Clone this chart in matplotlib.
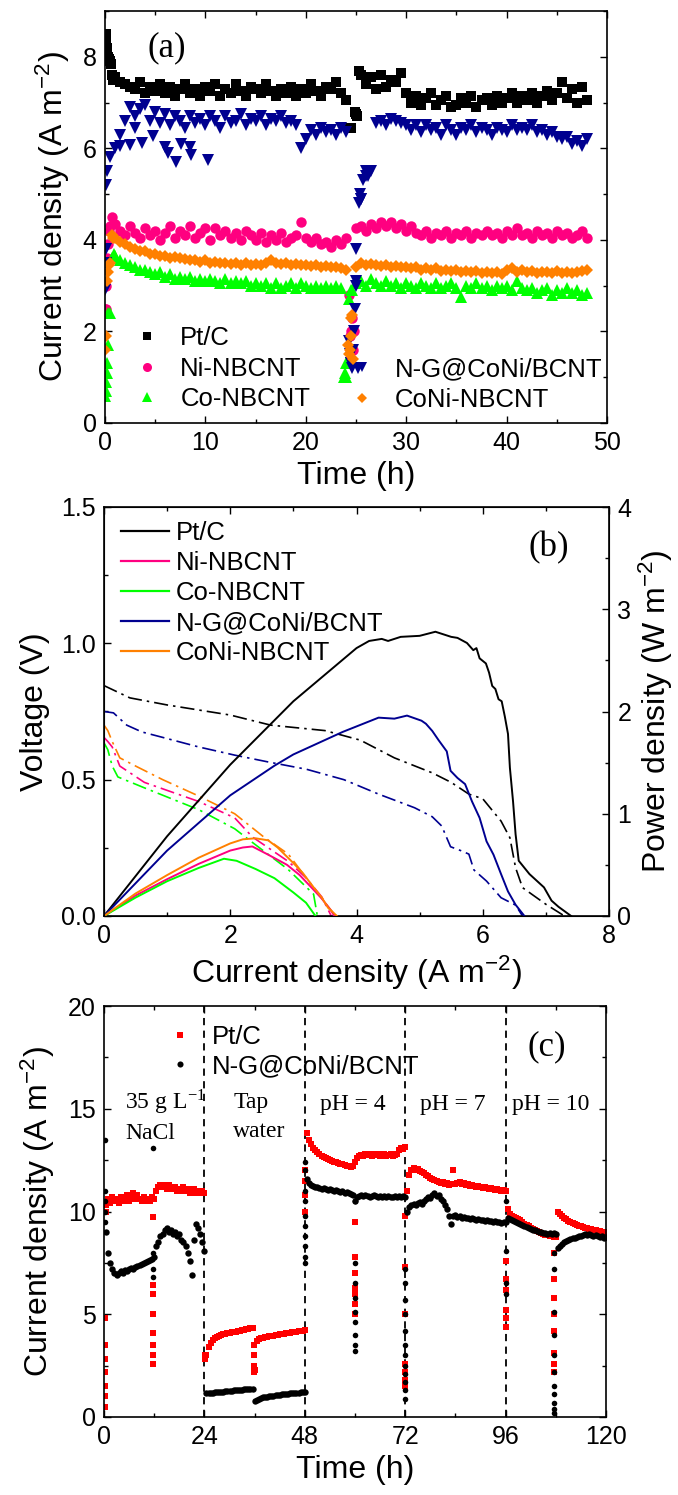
import numpy as np
import matplotlib
matplotlib.use('Agg')
import matplotlib.pyplot as plt
from matplotlib.ticker import MultipleLocator
from matplotlib.lines import Line2D

plt.rcParams['font.family'] = ['Liberation Sans', 'DejaVu Sans']
plt.rcParams['mathtext.fontset'] = 'custom'
plt.rcParams['mathtext.rm'] = 'Liberation Sans'
plt.rcParams['mathtext.it'] = 'Liberation Sans:italic'
plt.rcParams['mathtext.bf'] = 'Liberation Sans:bold'

# ---------------- Panel (a): stability over 48 h ----------------
TIME_A = np.arange(0, 48.01, 0.5)

PTC_A = [8.45, 7.9, 7.55, 7.45, 7.4, 7.35, 7.3, 7.45, 7.2, 7.35, 7.25, 7.4, 7.2, 7.35, 7.15, 7.3, 7.4, 7.2, 7.3, 7.15,
         7.35, 7.25, 7.4, 7.15, 7.3, 7.2, 7.4, 7.25, 7.15, 7.35, 7.3, 7.2, 7.4, 7.25, 7.15, 7.3, 7.2, 7.35, 7.15, 7.3,
         7.2, 7.4, 7.25, 7.15, 7.35, 7.3, 7.45, 7.2, 7.05, 6.45, 6.75, 7.6, 7.4, 7.55, 7.3, 7.6, 7.35, 7.5, 7.45, 7.65,
         7.2, 7.0, 7.15, 6.95, 7.1, 7.2, 6.95, 7.05, 7.15, 6.9, 6.95, 7.1, 7.0, 7.15, 6.9, 7.05, 7.1, 6.95, 7.15, 7.0,
         7.1, 7.2, 7.0, 7.15, 7.05, 7.2, 7.0, 7.15, 7.25, 7.05, 7.2, 7.45, 7.1, 7.3, 7.0, 7.35, 7.05]
NG_A = [5.2, 5.8, 6.0, 6.3, 6.6, 6.9, 6.7, 6.85, 6.95, 6.6, 6.8, 6.55, 6.75, 6.5, 6.7, 6.6, 6.45, 6.7, 6.55, 6.65,
        6.5, 6.7, 6.6, 6.45, 6.7, 6.55, 6.6, 6.75, 6.5, 6.65, 6.6, 6.7, 6.5, 6.65, 6.6, 6.7, 6.55, 6.6, 6.5, 6.0,
        6.2, 6.4, 6.3, 6.45, 6.35, 6.4, 6.3, 6.45, 6.35, 1.3, 3.0, 4.9, 5.4, 5.5, 6.55, 6.6, 6.5, 6.65, 6.6, 6.55,
        6.5, 6.4, 6.5, 6.35, 6.5, 6.4, 6.45, 6.3, 6.5, 6.4, 6.3, 6.45, 6.4, 6.5, 6.35, 6.45, 6.4, 6.3, 6.45, 6.4,
        6.35, 6.5, 6.4, 6.45, 6.4, 6.5, 6.35, 6.4, 6.3, 6.35, 6.25, 6.2, 6.25, 6.1, 6.15, 6.05, 6.2]
NI_A = [2.5, 4.3, 4.35, 4.2, 4.1, 4.3, 4.15, 4.05, 4.25, 4.1, 4.2, 4.0, 4.15, 4.3, 4.05, 4.2, 4.1, 4.3, 4.05, 4.15,
        4.25, 4.0, 4.25, 4.1, 4.2, 4.05, 4.15, 4.0, 4.2, 4.1, 4.0, 4.15, 3.95, 4.1, 4.0, 4.15, 3.95, 4.05, 4.1, 4.4,
        4.05, 3.95, 4.05, 3.9, 3.95, 3.85, 4.0, 3.9, 4.05, 2.0, 4.25, 4.3, 4.2, 4.35, 4.25, 4.4, 4.3, 4.4, 4.25, 4.35,
        4.2, 4.3, 4.15, 4.1, 4.2, 4.05, 4.15, 4.1, 4.2, 4.05, 4.15, 4.1, 4.2, 4.05, 4.15, 4.1, 4.2, 4.1, 4.15, 4.05,
        4.2, 4.1, 4.25, 4.1, 4.15, 4.05, 4.2, 4.1, 4.15, 4.05, 4.2, 4.1, 4.15, 4.05, 4.1, 4.2, 4.05]
CO_A = [0.6, 2.4, 3.65, 3.55, 3.5, 3.45, 3.4, 3.35, 3.35, 3.3, 3.25, 3.3, 3.2, 3.25, 3.15, 3.2, 3.15, 3.2, 3.1, 3.15,
        3.1, 3.15, 3.1, 3.05, 3.15, 3.05, 3.1, 3.05, 3.1, 3.0, 3.05, 3.0, 3.05, 2.95, 3.05, 2.95, 3.0, 3.05, 2.95, 3.05,
        3.0, 2.95, 3.0, 2.95, 3.0, 2.95, 3.0, 2.95, 1.0, 2.9, 3.05, 3.1, 3.0, 3.15, 3.05, 3.0, 3.1, 3.0, 3.05, 2.95,
        3.05, 3.0, 2.95, 3.05, 3.0, 2.95, 3.05, 2.95, 3.0, 3.05, 2.95, 2.75, 3.0, 2.95, 3.05, 2.95, 3.0, 2.9, 3.0, 2.95,
        3.0, 2.9, 3.1, 2.95, 2.9, 2.95, 2.85, 2.9, 2.95, 2.8, 2.9, 2.85, 2.95, 2.85, 2.9, 2.8, 2.85]
CONI_A = [1.6, 3.5, 4.05, 3.95, 3.9, 3.85, 3.8, 3.75, 3.75, 3.7, 3.7, 3.65, 3.65, 3.6, 3.62, 3.6, 3.58, 3.55, 3.55, 3.52,
          3.55, 3.5, 3.52, 3.5, 3.5, 3.48, 3.5, 3.45, 3.5, 3.45, 3.48, 3.45, 3.5, 3.55, 3.5, 3.48, 3.5, 3.45, 3.48, 3.45,
          3.45, 3.42, 3.45, 3.4, 3.42, 3.4, 3.4, 3.38, 3.35, 2.3, 3.4, 3.5, 3.45, 3.48, 3.45, 3.42, 3.45, 3.4, 3.42, 3.4,
          3.4, 3.38, 3.4, 3.35, 3.38, 3.35, 3.38, 3.32, 3.35, 3.32, 3.35, 3.3, 3.32, 3.3, 3.32, 3.28, 3.3, 3.28, 3.3, 3.25,
          3.35, 3.38, 3.3, 3.35, 3.3, 3.32, 3.28, 3.3, 3.3, 3.28, 3.32, 3.28, 3.3, 3.28, 3.3, 3.32, 3.35]

# extra points recorded at start-up and at the 24 h refresh
PTC_A_XT = [0.05, 0.1, 0.2, 0.3, 0.4, 0.6, 0.7, 0.8, 24.4, 24.9, 25.1, 25.3]
PTC_A_XV = [8.5, 8.35, 8.2, 8.0, 7.95, 7.85, 7.6, 7.5, 6.45, 6.8, 6.7, 7.7]
NG_A_XT = [0.0, 0.05, 0.1, 0.1, 0.2, 1.5, 2.5, 3.0, 3.65, 4.8, 5.97, 6.3, 7.1, 7.6, 8.5, 8.6, 10.3,
           24.3, 24.4, 24.5, 24.6, 24.7, 24.8, 24.9, 25.0, 25.0, 25.2, 25.3, 25.4, 25.5, 25.7, 26.0, 26.2, 26.4]
NG_A_XV = [2.9, 3.5, 3.8, 5.2, 5.5, 6.05, 6.07, 6.44, 6.12, 6.26, 6.04, 5.89, 5.7, 6.1, 6.03, 5.85, 5.74,
           1.8, 1.5, 1.3, 1.2, 1.6, 2.0, 2.5, 3.1, 3.8, 1.2, 4.8, 5.0, 4.9, 5.3, 5.5, 5.4, 5.5]
NI_A_XT = [0.05, 0.1, 0.2, 0.3, 0.4, 0.7, 24.3, 24.4, 24.6, 24.7, 24.8]
NI_A_XV = [2.5, 3.0, 3.6, 3.9, 4.2, 4.5, 2.8, 1.9, 2.3, 1.6, 2.0]
CO_A_XT = [0.1, 0.1, 0.15, 0.2, 0.25, 0.3, 0.7, 0.9, 23.8, 23.9, 24.0, 24.3, 24.6]
CO_A_XV = [0.7, 0.9, 1.1, 1.3, 1.7, 2.4, 3.6, 3.7, 1.0, 1.1, 1.3, 2.7, 2.9]
CONI_A_XT = [0.1, 0.15, 0.25, 0.35, 0.7, 0.8, 24.2, 24.3, 24.4, 24.5, 24.6, 24.7]
CONI_A_XV = [1.9, 3.1, 3.3, 3.45, 4.1, 4.05, 1.7, 1.5, 1.6, 1.9, 2.35, 1.4]

# ---------------- Panel (b): polarisation and power curves ----------------
PTC_VI = [0, 0.41, 1.0, 2.0, 2.64, 3.5, 4.06, 4.6, 5.2, 5.5, 5.78, 6.0, 6.29, 6.43, 6.52, 6.63, 7.0, 7.26, 7.32]
PTC_V = [0.845, 0.80, 0.774, 0.737, 0.70, 0.68, 0.645, 0.58, 0.525, 0.49, 0.447, 0.43, 0.348, 0.287, 0.177, 0.104, 0.043, 0.005, 0.0]
PTC_PI = [0, 1.0, 2.0, 3.0, 4.0, 4.2, 4.4, 4.5, 4.7, 5.0, 5.25, 5.5, 5.6, 5.75, 5.85, 5.9, 5.95, 6.05, 6.1, 6.15,
          6.2, 6.25, 6.3, 6.35, 6.4, 6.43, 6.48, 6.52, 6.57, 6.74, 6.97, 7.09, 7.2, 7.4]
PTC_P = [0, 0.78, 1.48, 2.1, 2.62, 2.69, 2.71, 2.69, 2.73, 2.74, 2.78, 2.73, 2.72, 2.67, 2.6, 2.62, 2.52, 2.47, 2.38, 2.25,
         2.22, 2.12, 2.1, 1.95, 1.78, 1.45, 1.12, 0.8, 0.54, 0.41, 0.28, 0.15, 0.09, 0.0]

NG_VI = [0, 0.15, 0.36, 0.6, 0.93, 1.5, 2.07, 2.6, 3.21, 3.8, 4.35, 4.92, 5.2, 5.35, 5.49, 5.65, 5.78, 5.86, 6.06, 6.29, 6.52, 6.63]
NG_V = [0.75, 0.745, 0.70, 0.675, 0.655, 0.62, 0.59, 0.565, 0.538, 0.50, 0.447, 0.397, 0.364, 0.33, 0.254, 0.24, 0.227, 0.169, 0.128, 0.067, 0.04, 0.0]
NG_PI = [0, 1.0, 2.0, 2.7, 3.0, 3.78, 4.35, 4.6, 4.8, 5.03, 5.1, 5.2, 5.3, 5.43, 5.49, 5.6, 5.72, 5.83, 5.95, 6.06, 6.17, 6.29, 6.4, 6.52, 6.66]
NG_P = [0, 0.64, 1.18, 1.47, 1.58, 1.8, 1.94, 1.93, 1.96, 1.91, 1.88, 1.81, 1.72, 1.61, 1.42, 1.35, 1.29, 1.12, 0.96, 0.73, 0.6, 0.41, 0.24, 0.11, 0.0]

NI_VI = [0, 0.06, 0.13, 0.25, 0.64, 1.5, 2.07, 2.35, 2.92, 3.2, 3.45, 3.6]
NI_V = [0.655, 0.64, 0.62, 0.55, 0.49, 0.42, 0.36, 0.29, 0.20, 0.14, 0.07, 0.0]
NI_PI = [0, 0.5, 1.0, 1.5, 2.0, 2.2, 2.35, 2.6, 2.9, 3.1, 3.3, 3.45, 3.6, 3.65]
NI_P = [0, 0.2, 0.36, 0.51, 0.64, 0.67, 0.68, 0.6, 0.5, 0.4, 0.27, 0.17, 0.05, 0]

CO_VI = [0, 0.06, 0.13, 0.22, 0.64, 1.5, 2.07, 2.35, 2.92, 3.32, 3.38]
CO_V = [0.635, 0.61, 0.55, 0.51, 0.47, 0.39, 0.32, 0.27, 0.17, 0.08, 0.0]
CO_PI = [0, 0.5, 1.0, 1.5, 1.9, 2.1, 2.4, 2.7, 3.0, 3.2, 3.35]
CO_P = [0, 0.18, 0.34, 0.47, 0.56, 0.54, 0.46, 0.37, 0.23, 0.13, 0]

CONI_VI = [0, 0.06, 0.13, 0.25, 0.5, 0.93, 1.5, 2.07, 2.53, 2.92, 3.32, 3.5, 3.67]
CONI_V = [0.70, 0.68, 0.64, 0.58, 0.55, 0.50, 0.44, 0.375, 0.29, 0.227, 0.104, 0.05, 0.0]
CONI_PI = [0, 0.5, 1.0, 1.5, 2.0, 2.2, 2.4, 2.6, 2.75, 2.98, 3.15, 3.32, 3.45, 3.55, 3.69]
CONI_P = [0, 0.22, 0.40, 0.57, 0.71, 0.75, 0.76, 0.74, 0.67, 0.53, 0.42, 0.28, 0.18, 0.08, 0]

# ---------------- Panel (c): different electrolytes, 120 h ----------------
TIME_C = np.arange(0.5, 120.01, 0.5)
PTC_C_NACL = [10.3, 10.6, 10.4, 10.7, 10.5, 10.6, 10.4, 10.7, 10.5, 10.6, 10.8, 10.5, 10.7, 10.9, 10.6, 10.8, 10.6, 10.5, 10.7, 10.5, 10.6, 10.5, 10.7, 10.6,
              11.0, 11.2, 11.3, 11.2, 11.3, 11.1, 11.3, 11.2, 11.1, 11.2, 11.0, 11.1, 11.0, 11.2, 11.0, 11.1, 10.9, 11.0, 11.1, 10.9, 11.0, 10.9, 11.0, 10.9]
PTC_C_TAP = [3.0, 3.4, 3.6, 3.75, 3.85, 3.9, 3.95, 4.0, 4.02, 4.05, 4.07, 4.1, 4.12, 4.14, 4.16, 4.18, 4.2, 4.22, 4.25, 4.27, 4.3, 4.32, 4.35, 2.3,
             3.7, 3.8, 3.82, 3.85, 3.87, 3.9, 3.92, 3.94, 3.96, 3.98, 4.0, 4.02, 4.04, 4.05, 4.07, 4.08, 4.1, 4.12, 4.14, 4.15, 4.17, 4.18, 4.2, 4.22]
PTC_C_PH4 = [13.8, 13.5, 13.3, 13.1, 13.0, 12.9, 12.8, 12.7, 12.65, 12.6, 12.55, 12.5, 12.45, 12.4, 12.4, 12.35, 12.3, 12.3, 12.25, 12.2, 12.2, 12.15, 12.2, 12.4,
             12.6, 12.7, 12.75, 12.7, 12.8, 12.75, 12.8, 12.7, 12.8, 12.75, 12.8, 12.7, 12.75, 12.8, 12.7, 12.75, 12.8, 12.7, 12.75, 12.8, 13.0, 13.1, 13.05, 13.15]
PTC_C_PH7 = [11.0, 11.8, 12.0, 12.1, 12.0, 12.05, 11.95, 11.9, 11.85, 11.8, 11.75, 11.65, 11.6, 11.55, 11.5, 11.45, 11.4, 11.45, 11.35, 11.4, 11.3, 11.35, 12.0, 11.35,
             11.4, 11.45, 11.35, 11.4, 11.3, 11.35, 11.25, 11.3, 11.25, 11.2, 11.25, 11.2, 11.15, 11.2, 11.15, 11.1, 11.15, 11.1, 11.05, 11.1, 11.05, 11.0, 11.05, 11.0]
PTC_C_PH10 = [10.1, 9.9, 9.8, 9.75, 9.7, 9.65, 9.6, 9.5, 9.4, 9.35, 9.3, 9.2, 9.15, 9.1, 9.05, 9.0, 8.95, 8.9, 8.85, 8.85, 8.8, 8.8, 8.75, 8.75,
              10.0, 9.9, 9.8, 9.7, 9.65, 9.55, 9.5, 9.45, 9.4, 9.35, 9.3, 9.3, 9.25, 9.2, 9.2, 9.15, 9.15, 9.1, 9.1, 9.05, 9.05, 9.0, 9.0, 8.95]

NG_C_NACL = [9.0, 8.0, 7.5, 7.2, 7.0, 6.9, 7.0, 7.1, 7.0, 7.15, 7.1, 7.2, 7.25, 7.2, 7.3, 7.35, 7.4, 7.45, 7.5, 7.55, 7.6, 7.65, 7.7, 7.8,
             8.3, 8.5, 8.8, 8.9, 9.1, 9.2, 9.0, 9.1, 8.9, 9.0, 8.8, 8.9, 8.6, 8.5, 8.3, 8.0, 7.6, 6.9, 8.6, 9.4, 9.2, 8.9, 8.5, 8.1]
NG_C_TAP = [1.15, 1.15, 1.17, 1.18, 1.2, 1.2, 1.22, 1.23, 1.24, 1.25, 1.26, 1.27, 1.28, 1.29, 1.3, 1.31, 1.32, 1.33, 1.34, 1.35, 1.36, 1.37, 1.38, 0.8,
            0.85, 0.9, 0.93, 0.95, 0.97, 0.99, 1.0, 1.02, 1.04, 1.05, 1.07, 1.08, 1.1, 1.11, 1.12, 1.13, 1.15, 1.16, 1.17, 1.18, 1.19, 1.2, 1.21, 1.22]
NG_C_PH4 = [11.6, 11.4, 11.3, 11.25, 11.2, 11.2, 11.15, 11.1, 11.15, 11.1, 11.05, 11.1, 11.05, 11.0, 11.05, 11.0, 10.95, 11.0, 10.9, 10.95, 10.9, 10.85, 10.8, 10.5,
            10.7, 10.75, 10.8, 10.75, 10.8, 10.75, 10.7, 10.75, 10.8, 10.75, 10.7, 10.75, 10.7, 10.75, 10.7, 10.75, 10.7, 10.7, 10.75, 10.7, 10.75, 10.7, 10.75, 10.7]
NG_C_PH7 = [10.0, 10.2, 10.3, 10.35, 10.3, 10.4, 10.45, 10.35, 10.5, 10.6, 10.7, 10.65, 10.8, 10.9, 10.75, 10.8, 10.6, 10.5, 10.3, 10.1, 9.8, 9.4, 9.8, 9.85,
            9.75, 9.8, 9.7, 9.75, 9.7, 9.7, 9.65, 9.7, 9.65, 9.6, 9.65, 9.6, 9.6, 9.55, 9.6, 9.55, 9.55, 9.5, 9.55, 9.5, 9.5, 9.45, 9.5, 9.5]
NG_C_PH10 = [9.7, 9.65, 9.6, 9.55, 9.5, 9.45, 9.4, 9.35, 9.3, 9.25, 9.2, 9.15, 9.1, 9.1, 9.05, 9.0, 9.0, 8.95, 8.95, 8.9, 8.95, 8.9, 8.95, 8.9,
             8.2, 8.3, 8.4, 8.5, 8.55, 8.6, 8.65, 8.7, 8.7, 8.75, 8.8, 8.8, 8.85, 8.9, 8.85, 8.9, 8.85, 8.8, 8.85, 8.8, 8.75, 8.8, 8.7, 8.75]

# recovery points after each medium exchange
PTC_C_XT = [0.3] * 7 + [0.4] + [11.8] * 8 + [24.2] * 2 + [35.8] * 4 + [48.0] * 4 + [59.9] * 7 + [72.0] * 7 + [96.0] * 6 + [107.5] * 8
PTC_C_XV = [0.5, 1.0, 1.5, 2.2, 2.8, 3.5, 4.8, 10.0,
            2.6, 3.0, 3.5, 4.1, 5.0, 6.0, 6.4, 9.75,
            2.8, 3.0,
            2.2, 2.5, 3.0, 3.5,
            10.0, 10.8, 11.5, 12.0,
            5.0, 5.5, 6.0, 6.3, 7.0, 7.8, 9.5,
            1.5, 1.8, 2.2, 2.6, 5.0, 7.3, 9.8,
            4.4, 4.8, 5.2, 6.2, 6.7, 7.6,
            2.2, 2.6, 3.1, 4.2, 5.0, 5.8, 6.7, 8.0]
NG_C_XT = [0.2] * 5 + [11.8] * 4 + [48.0] * 10 + [60.0] * 9 + [72.0] * 12 + [96.0] * 4 + [107.5] * 11
NG_C_XV = [13.5, 11.0, 10.5, 10.0, 9.5,
           13.1, 6.8, 7.2, 8.0,
           7.5, 7.8, 8.3, 8.8, 9.3, 9.8, 10.5, 11.0, 12.0, 12.4,
           3.2, 3.5, 4.0, 4.6, 5.1, 5.8, 6.5, 7.5, 10.5,
           0.9, 1.3, 1.7, 2.1, 2.5, 3.0, 3.5, 4.2, 5.0, 5.7, 6.5, 7.2,
           6.0, 6.5, 8.1, 10.5,
           0.2, 0.4, 0.7, 1.1, 1.5, 2.2, 3.0, 4.0, 5.1, 7.2, 8.0]

SWITCH_TIMES = [24, 48, 72, 96]

# ---------------- styling ----------------
C_PT, C_NI, C_CO, C_NG, C_CONI = 'black', '#FF0080', '#00FF00', '#000090', '#FF8000'
TICK_FS, LEG_FS, LAB_FS = 18, 18.5, 23
SERIF = ['Liberation Serif', 'DejaVu Serif']
MS_SQ, MS_CI, MS_TR, MS_DI = 6.5, 7.5, 8, 6

fig = plt.figure(figsize=(6.78, 14.95), dpi=100)
W, H = 678.0, 1495.0


def place(l, r, t, b):
    return [l / W, 1 - b / H, (r - l) / W, (b - t) / H]


def style(ax, right=True):
    ax.tick_params(which='both', direction='in', top=True, right=right, labelsize=TICK_FS, width=1.0)
    ax.tick_params(which='major', length=5, pad=6)
    ax.tick_params(which='minor', length=3)
    for s in ax.spines.values():
        s.set_linewidth(1.2)


# ---- (a)
axA = fig.add_axes(place(105, 607, 11, 423))
kw = dict(linestyle='none', markeredgewidth=0)
axA.plot(TIME_A, PTC_A, 's', color=C_PT, ms=MS_SQ, **kw)
axA.plot(PTC_A_XT, PTC_A_XV, 's', color=C_PT, ms=MS_SQ, **kw)
axA.plot(TIME_A, NI_A, 'o', color=C_NI, ms=MS_CI, **kw)
axA.plot(NI_A_XT, NI_A_XV, 'o', color=C_NI, ms=MS_CI, **kw)
axA.plot(TIME_A, CO_A, '^', color=C_CO, ms=MS_TR, **kw)
axA.plot(CO_A_XT, CO_A_XV, '^', color=C_CO, ms=MS_TR, **kw)
axA.plot(TIME_A, NG_A, 'v', color=C_NG, ms=MS_TR, **kw)
axA.plot(NG_A_XT, NG_A_XV, 'v', color=C_NG, ms=MS_TR, **kw)
axA.plot(TIME_A, CONI_A, 'D', color=C_CONI, ms=MS_DI, **kw)
axA.plot(CONI_A_XT, CONI_A_XV, 'D', color=C_CONI, ms=MS_DI, **kw)
axA.set_xlim(0, 50)
axA.set_ylim(0, 9)
axA.xaxis.set_major_locator(MultipleLocator(10))
axA.xaxis.set_minor_locator(MultipleLocator(5))
axA.yaxis.set_major_locator(MultipleLocator(2))
axA.yaxis.set_minor_locator(MultipleLocator(1))
style(axA)
axA.set_xlabel('Time (h)', fontsize=LAB_FS, labelpad=4)
axA.set_ylabel('Current density (A m$^{-2}$)', fontsize=LAB_FS, labelpad=8)
axA.text(6.2, 8.2, '(a)', fontsize=25, family=SERIF, ha='center', va='center')

h1 = [Line2D([], [], marker='s', color=C_PT, ls='none', ms=5.5, mew=0),
      Line2D([], [], marker='o', color=C_NI, ls='none', ms=6.5, mew=0),
      Line2D([], [], marker='^', color=C_CO, ls='none', ms=7, mew=0)]
leg1 = axA.legend(h1, ['Pt/C', 'Ni-NBCNT', 'Co-NBCNT'], loc='upper left', bbox_to_anchor=(0.058, 0.235),
                  frameon=False, fontsize=LEG_FS, handlelength=1.0, handletextpad=0.8, labelspacing=0.25,
                  borderpad=0, borderaxespad=0)
axA.add_artist(leg1)
h2 = [Line2D([], [], marker='v', color=C_NG, ls='none', ms=7, mew=0),
      Line2D([], [], marker='D', color=C_CONI, ls='none', ms=5.5, mew=0)]
axA.legend(h2, ['N-G@CoNi/BCNT', 'CoNi-NBCNT'], loc='upper left', bbox_to_anchor=(0.486, 0.16),
           frameon=False, fontsize=LEG_FS, handlelength=1.0, handletextpad=0.8, labelspacing=0.25,
           borderpad=0, borderaxespad=0)

# ---- (b)
axB = fig.add_axes(place(104, 609, 507, 916))
axP = axB.twinx()
dd = (0, (8.5, 3, 1.5, 3))
for I, V, c in [(PTC_VI, PTC_V, C_PT), (NI_VI, NI_V, C_NI), (CO_VI, CO_V, C_CO),
                (NG_VI, NG_V, C_NG), (CONI_VI, CONI_V, C_CONI)]:
    axB.plot(I, V, color=c, lw=1.2, linestyle=dd)
names = ['Pt/C', 'Ni-NBCNT', 'Co-NBCNT', 'N-G@CoNi/BCNT', 'CoNi-NBCNT']
for I, P, c in [(PTC_PI, PTC_P, C_PT), (NI_PI, NI_P, C_NI), (CO_PI, CO_P, C_CO),
                (NG_PI, NG_P, C_NG), (CONI_PI, CONI_P, C_CONI)]:
    axP.plot(I, P, color=c, lw=1.4)
axB.set_xlim(0, 8)
axB.set_ylim(0, 1.5)
axP.set_ylim(0, 4)
axB.xaxis.set_major_locator(MultipleLocator(2))
axB.xaxis.set_minor_locator(MultipleLocator(1))
axB.yaxis.set_major_locator(MultipleLocator(0.5))
axB.yaxis.set_minor_locator(MultipleLocator(0.25))
axB.yaxis.set_major_formatter(matplotlib.ticker.FormatStrFormatter('%.1f'))
axP.yaxis.set_major_locator(MultipleLocator(1))
axP.yaxis.set_minor_locator(MultipleLocator(0.5))
style(axB, right=False)
axP.tick_params(which='both', direction='in', labelsize=TICK_FS, width=1.0)
axP.tick_params(which='major', length=5, pad=6)
axP.tick_params(which='minor', length=3)
axB.set_xlabel('Current density (A m$^{-2}$)', fontsize=LAB_FS, labelpad=4)
axB.set_ylabel('Voltage (V)', fontsize=LAB_FS, labelpad=8)
axP.set_ylabel('Power density (W m$^{-2}$)', fontsize=LAB_FS, labelpad=4)
axB.text(7.05, 1.35, '(b)', fontsize=25, family=SERIF, ha='center', va='center')
hb = [Line2D([], [], color=c, lw=1.6) for c in [C_PT, C_NI, C_CO, C_NG, C_CONI]]
axB.legend(hb, names, loc='upper left', bbox_to_anchor=(0.034, 0.965), frameon=False, fontsize=LEG_FS,
           handlelength=1.87, handletextpad=0.27, labelspacing=0.23, borderpad=0, borderaxespad=0)

# ---- (c)
axC = fig.add_axes(place(104, 606, 1006, 1417))
PTC_C = PTC_C_NACL + PTC_C_TAP + PTC_C_PH4 + PTC_C_PH7 + PTC_C_PH10
NG_C = NG_C_NACL + NG_C_TAP + NG_C_PH4 + NG_C_PH7 + NG_C_PH10
for x in SWITCH_TIMES:
    axC.axvline(x, color='black', lw=1.3, linestyle=(0, (4, 3)), zorder=1)
axC.plot(TIME_C, PTC_C, 's', color='#FF0000', ms=4.4, **kw)
axC.plot(PTC_C_XT, PTC_C_XV, 's', color='#FF0000', ms=4.2, **kw)
axC.plot(TIME_C, NG_C, 'o', color='black', ms=4.6, **kw)
axC.plot(NG_C_XT, NG_C_XV, 'o', color='black', ms=4.0, **kw)
axC.set_xlim(0, 120)
axC.set_ylim(0, 20)
axC.xaxis.set_major_locator(MultipleLocator(24))
axC.xaxis.set_minor_locator(MultipleLocator(12))
axC.yaxis.set_major_locator(MultipleLocator(5))
axC.yaxis.set_minor_locator(MultipleLocator(2.5))
style(axC)
axC.set_xlabel('Time (h)', fontsize=LAB_FS, labelpad=4)
axC.set_ylabel('Current density (A m$^{-2}$)', fontsize=LAB_FS, labelpad=8)
axC.text(105.9, 18.0, '(c)', fontsize=25, family=SERIF, ha='center', va='center')
ann_fs = 17
axC.text(5.0, 15.3, r'35 g L$^{\mathregular{-1}}$', fontsize=ann_fs, family=SERIF, math_fontfamily='stix',
         ha='left', va='center')
axC.text(5.0, 13.8, 'NaCl', fontsize=ann_fs, family=SERIF, ha='left', va='center')
axC.text(30.9, 15.3, 'Tap', fontsize=ann_fs, family=SERIF, ha='left', va='center')
axC.text(30.8, 13.9, 'water', fontsize=ann_fs, family=SERIF, ha='left', va='center')
axC.text(51.6, 15.2, 'pH = 4', fontsize=ann_fs, family=SERIF, ha='left', va='center')
axC.text(75.5, 15.2, 'pH = 7', fontsize=ann_fs, family=SERIF, ha='left', va='center')
axC.text(97.5, 15.2, 'pH = 10', fontsize=ann_fs, family=SERIF, ha='left', va='center')
hc = [Line2D([], [], marker='s', color='#FF0000', ls='none', ms=4.4, mew=0),
      Line2D([], [], marker='o', color='black', ls='none', ms=4.4, mew=0)]
axC.legend(hc, ['Pt/C', 'N-G@CoNi/BCNT'], loc='upper left', bbox_to_anchor=(0.126, 0.953), frameon=False,
           fontsize=LEG_FS, handlelength=1.0, handletextpad=0.75, labelspacing=0.2, borderpad=0, borderaxespad=0)

fig.savefig('out.png', dpi=100)
